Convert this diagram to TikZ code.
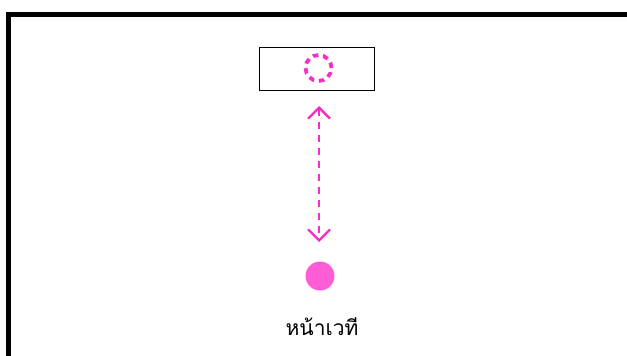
\documentclass[tikz,border=0pt]{standalone}
\usepackage{fontspec}
\newfontfamily\thaifont[Script=Thai]{Loma}
\usetikzlibrary{arrows.meta}
\definecolor{pinkline}{HTML}{F52EC8}
\definecolor{pinkfill}{HTML}{FF5CD6}
\begin{document}
\begin{tikzpicture}[x=1pt,y=-1pt,
  frame/.style={draw=black,line width=5pt},
  stagebox/.style={draw=black,line width=1pt,minimum width=115pt,minimum height=43pt,inner sep=0pt},
  ghost/.style={circle,draw=pinkline,line width=3.8pt,dash pattern=on 5.5pt off 4.7pt,minimum size=26pt,inner sep=0pt},
  person/.style={circle,fill=pinkfill,minimum size=29pt,inner sep=0pt},
  moveline/.style={pinkline,line width=2.3pt,dash pattern=on 7pt off 6pt,{Straight Barb[length=11pt,width=22pt]}-{Straight Barb[length=11pt,width=22pt]}},
  label/.style={font=\thaifont\fontsize{21}{24}\selectfont}]
\useasboundingbox (0,0) rectangle (627,356);
\draw[frame] (8.5,400) -- (8.5,14.5) -- (700,14.5);
\node[stagebox] (stage) at (316.5,68.5) {};
\node[ghost] (g) at (318.5,68) {};
\node[person] (p) at (320,276) {};
\coordinate (a1) at (319,106);
\coordinate (a2) at (319,242);
\draw[moveline] (a1) -- (a2);
\node[label] (t) at (322,327) {หน้าเวที};
\end{tikzpicture}
\end{document}
